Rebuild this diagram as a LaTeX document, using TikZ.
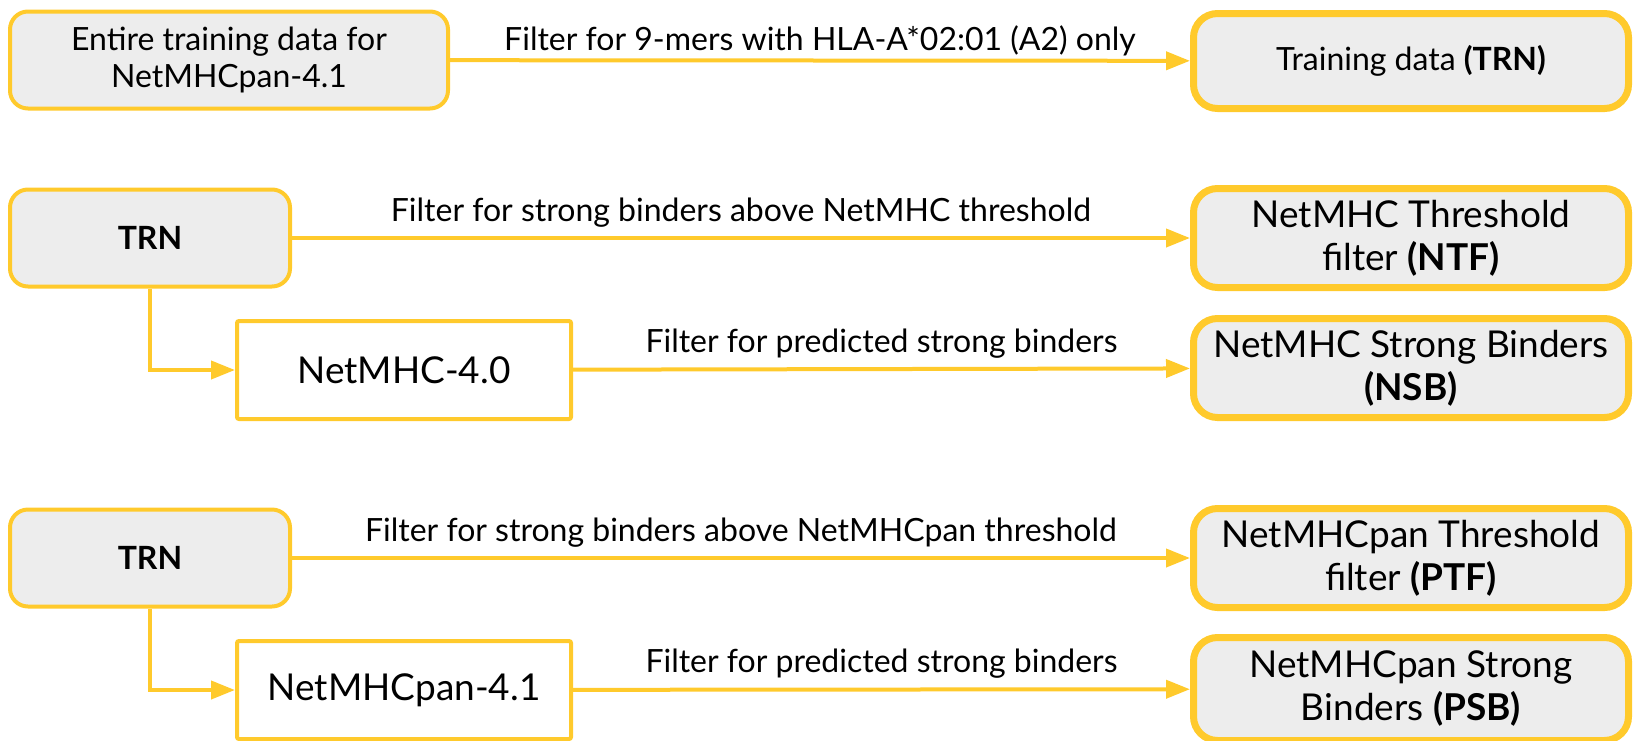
\documentclass[tikz,border=0pt]{standalone}
\usepackage{fontspec}
\setmainfont{Lato}
\usetikzlibrary{arrows.meta,positioning}
\definecolor{amber}{RGB}{255,202,44}
\definecolor{boxgray}{RGB}{237,237,237}

\begin{document}
\begin{tikzpicture}[x=1pt,y=-1pt,font=\fontsize{32}{38}\selectfont,
  src/.style={draw=amber,fill=boxgray,line width=4pt,rounded corners=18pt,minimum width=280pt,minimum height=97pt,align=center,inner sep=0pt,font=\fontsize{32}{37}\selectfont},
  tool/.style={draw=amber,fill=white,line width=4pt,rounded corners=2pt,minimum width=334pt,minimum height=98pt,font=\fontsize{37}{44}\selectfont},
  result/.style={draw=amber,fill=boxgray,line width=7pt,rounded corners=24pt,minimum width=435pt,minimum height=99pt,align=center,inner sep=0pt,font=\fontsize{37}{43}\selectfont},
  link/.style={draw=amber,line width=4pt,-{Triangle[length=24pt,width=18pt]}},
  lbl/.style={above=7pt,inner sep=2pt}]
\useasboundingbox (0,0) rectangle (1634,740);

\node[src,minimum width=438pt] (entire) at (229,60) {Entire training data for\\NetMHCpan-4.1};
\node[result,minimum height=95pt,font=\fontsize{32}{38}\selectfont] (trn) at (1411,61) {Training data \textbf{(TRN)}};

\node[src] (trnA) at (150,238) {\textbf{TRN}};
\node[tool] (netmhc) at (404,370) {NetMHC-4.0};
\node[result] (ntf) at (1411,238) {NetMHC Threshold\\filter \textbf{(NTF)}};
\node[result] (nsb) at (1411,368) {NetMHC Strong Binders\\\textbf{(NSB)}};

\node[src] (trnB) at (150,558) {\textbf{TRN}};
\node[tool] (netmhcpan) at (404,690) {NetMHCpan-4.1};
\node[result] (ptf) at (1411,558) {NetMHCpan Threshold\\filter \textbf{(PTF)}};
\node[result,minimum height=103pt] (psb) at (1411,689) {NetMHCpan Strong\\Binders \textbf{(PSB)}};

\draw[link] (entire) -- node[lbl,above=1pt] {Filter for 9-mers with HLA-A*02:01 (A2) only} (trn);
\draw[link] (trnA) -- node[lbl] {Filter for strong binders above NetMHC threshold} (ntf);
\draw[link] (trnA) |- (netmhc);
\draw[link] (netmhc) -- node[lbl] {Filter for predicted strong binders} (nsb);
\draw[link] (trnB) -- node[lbl] {Filter for strong binders above NetMHCpan threshold} (ptf);
\draw[link] (trnB) |- (netmhcpan);
\draw[link] (netmhcpan) -- node[lbl] {Filter for predicted strong binders} (psb);
\end{tikzpicture}
\end{document}
